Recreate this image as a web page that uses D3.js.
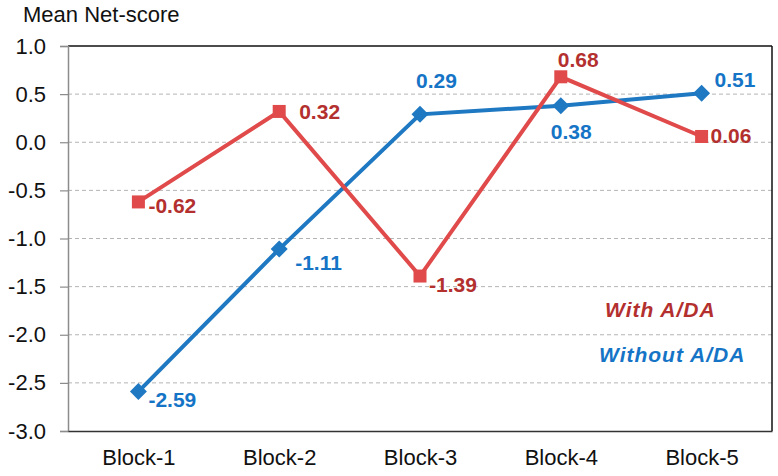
<!DOCTYPE html>
<html>
<head>
<meta charset="utf-8">
<script src="https://cdn.jsdelivr.net/npm/d3@7"></script>
<style>
  body { margin: 0; background: #fff; }
  svg { font-family: "Liberation Sans", Arial, sans-serif; }
</style>
</head>
<body>
<div id="wrapper"></div>
<script>
const blocks = ["Block-1", "Block-2", "Block-3", "Block-4", "Block-5"];
const withADA = [-0.62, 0.32, -1.39, 0.68, 0.06];
const withoutADA = [-2.59, -1.11, 0.29, 0.38, 0.51];
const yTicks = [-3.0, -2.5, -2.0, -1.5, -1.0, -0.5, 0.0, 0.5, 1.0];

// label offsets from each marker (dx, dy to baseline)
const withOffsets = [[10, 11], [20, 8], [9, 16], [-3, -10], [9, 7]];
const withoutOffsets = [[10, 15], [16, 21], [-4, -26], [-10, 33], [13, -6]];

const dimension = {
    width: 778,
    height: 476,
    margin: { top: 46, left: 68, bottom: 45, right: 6 }
};
dimension.boundedWidth = dimension.width - dimension.margin.left - dimension.margin.right;
dimension.boundedHeight = dimension.height - dimension.margin.top - dimension.margin.bottom;

const redLine = "#e04a4a", redText = "#b3302f";
const blueLine = "#1e78c2", blueText = "#1574c6";

const svg = d3.select("#wrapper").append("svg")
    .attr("width", dimension.width)
    .attr("height", dimension.height);

svg.append("text")
    .attr("x", 23)
    .attr("y", 22)
    .style("font-size", "22px")
    .attr("fill", "#111")
    .text("Mean Net-score");

const bounded = svg.append("g")
    .attr("transform", `translate(${dimension.margin.left},${dimension.margin.top})`);

const xScaler = d3.scalePoint()
    .domain(blocks)
    .range([0, dimension.boundedWidth])
    .padding(0.5);

const yScaler = d3.scaleLinear()
    .domain([-3, 1])
    .range([dimension.boundedHeight, 0]);

// dashed grid
bounded.append("g")
    .selectAll("line")
    .data(yTicks.filter(d => d > -3 && d < 1))
    .join("line")
    .attr("x1", 0)
    .attr("x2", dimension.boundedWidth)
    .attr("y1", d => yScaler(d))
    .attr("y2", d => yScaler(d))
    .attr("stroke", "#b4b4b4")
    .attr("stroke-width", 1)
    .attr("stroke-dasharray", "4,3");

// frame: top and right black
bounded.append("line")
    .attr("x1", 0).attr("x2", dimension.boundedWidth)
    .attr("y1", yScaler(1)).attr("y2", yScaler(1))
    .attr("stroke", "#111").attr("stroke-width", 1.5);
bounded.append("line")
    .attr("x1", dimension.boundedWidth).attr("x2", dimension.boundedWidth)
    .attr("y1", 0).attr("y2", dimension.boundedHeight)
    .attr("stroke", "#111").attr("stroke-width", 1.5);

// y axis
const yAxis = d3.axisLeft(yScaler)
    .tickValues(yTicks)
    .tickFormat(d => d.toFixed(1))
    .tickSize(8)
    .tickPadding(14);
const yAxisG = bounded.append("g").call(yAxis);
yAxisG.select(".domain").attr("stroke", "#8c8c8c").attr("stroke-width", 1.5);
yAxisG.selectAll(".tick line").attr("stroke", "#8c8c8c").attr("stroke-width", 1.2);
yAxisG.selectAll("text")
    .style("font-size", "22px")
    .style("font-family", "Liberation Sans, Arial, sans-serif")
    .attr("fill", "#111");

// x axis
const xAxis = d3.axisBottom(xScaler)
    .tickSize(0)
    .tickPadding(18);
const xAxisG = bounded.append("g")
    .attr("transform", `translate(0,${dimension.boundedHeight})`)
    .call(xAxis);
xAxisG.select(".domain").attr("stroke", "#333").attr("stroke-width", 1.5);
xAxisG.selectAll("text")
    .style("font-size", "22px")
    .style("font-family", "Liberation Sans, Arial, sans-serif")
    .attr("fill", "#111");

const lineGenerator = d3.line()
    .x((d, i) => xScaler(blocks[i]))
    .y(d => yScaler(d));

// Without A/DA (blue)
bounded.append("path")
    .attr("d", lineGenerator(withoutADA))
    .attr("fill", "none")
    .attr("stroke", blueLine)
    .attr("stroke-width", 4);
bounded.append("g")
    .selectAll("rect")
    .data(withoutADA)
    .join("rect")
    .attr("x", -6).attr("y", -6)
    .attr("width", 12).attr("height", 12)
    .attr("transform", (d, i) => `translate(${xScaler(blocks[i])},${yScaler(d)}) rotate(45)`)
    .attr("fill", blueLine);

// With A/DA (red)
bounded.append("path")
    .attr("d", lineGenerator(withADA))
    .attr("fill", "none")
    .attr("stroke", redLine)
    .attr("stroke-width", 4);
bounded.append("g")
    .selectAll("rect")
    .data(withADA)
    .join("rect")
    .attr("x", (d, i) => xScaler(blocks[i]) - 6.5)
    .attr("y", d => yScaler(d) - 6.5)
    .attr("width", 13).attr("height", 13)
    .attr("fill", redLine);

// value labels
function addLabels(values, offsets, color) {
    bounded.append("g")
        .selectAll("text")
        .data(values)
        .join("text")
        .attr("x", (d, i) => xScaler(blocks[i]) + offsets[i][0])
        .attr("y", (d, i) => yScaler(d) + offsets[i][1])
        .attr("fill", color)
        .style("font-size", "21px")
        .style("font-weight", "bold")
        .text(d => d.toFixed(2));
}
addLabels(withADA, withOffsets, redText);
addLabels(withoutADA, withoutOffsets, blueText);

// legend labels
svg.append("text")
    .attr("x", 605).attr("y", 317)
    .attr("fill", redText)
    .style("font-size", "21px")
    .style("font-weight", "bold")
    .style("font-style", "italic")
    .style("letter-spacing", "1px")
    .text("With A/DA");
svg.append("text")
    .attr("x", 599).attr("y", 362)
    .attr("fill", blueText)
    .style("font-size", "21px")
    .style("font-weight", "bold")
    .style("font-style", "italic")
    .style("letter-spacing", "1px")
    .text("Without A/DA");
</script>
</body>
</html>
